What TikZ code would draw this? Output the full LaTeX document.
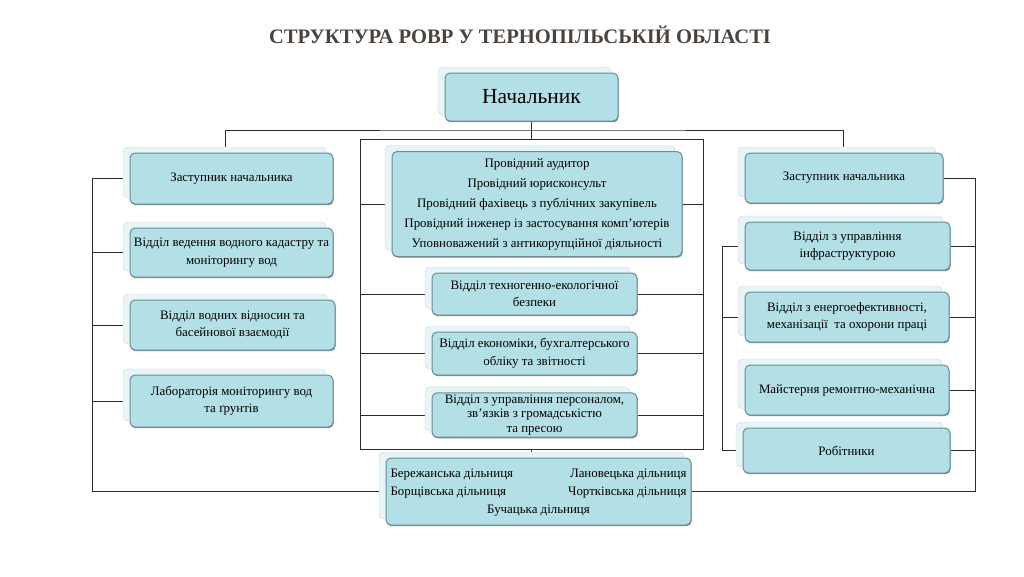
\documentclass[tikz,border=0pt]{standalone}
\usepackage{fontspec}
\setmainfont{Liberation Serif}
\usetikzlibrary{positioning, shadows, backgrounds}
\definecolor{rovrfill}{HTML}{B3DFE6}
\definecolor{rovredge}{HTML}{6A8E92}
\definecolor{rovrshade}{HTML}{E8F4F5}
\definecolor{rovrtitle}{HTML}{4A433E}
\definecolor{rovrline}{HTML}{2B2B2B}

\begin{document}
\begin{tikzpicture}[x=1pt, y=-1pt,
  box/.style={draw=rovredge, line width=1pt, fill=rovrfill, rounded corners=5pt,
    align=center, inner sep=2pt, font=\fontsize{12.9}{17.5}\selectfont,
    general shadow={shadow xshift=-7pt, shadow yshift=6pt, fill=rovrshade,
      draw=rovrshade!75!gray, line width=0.4pt},
    general shadow={shadow xshift=0.6pt, shadow yshift=-1.2pt, fill=rovredge}},
  link/.style={draw=rovrline, line width=0.9pt}]
  \useasboundingbox (0,0) rectangle (1024,576);
  \node[font=\bfseries\fontsize{20.6}{24}\selectfont, text=rovrtitle] (title) at (520,35)
      {СТРУКТУРА РОВР У ТЕРНОПІЛЬСЬКІЙ ОБЛАСТІ};
  \node[box, minimum width=173pt, minimum height=48pt, font=\fontsize{21.5}{24}\selectfont]
      (chief) at (531.5,97) {Начальник};
  \node[box, minimum width=203pt, minimum height=51pt] (ldep) at (231.5,178.5)
      {Заступник начальника};
  \node[box, minimum width=203pt, minimum height=49pt] (cadastre) at (231.5,252.5)
      {Відділ ведення водного кадастру та\\моніторингу вод};
  \node[box, minimum width=205pt, minimum height=50pt] (relations) at (232.5,325)
      {Відділ водних відносин та\\басейнової взаємодії};
  \node[box, minimum width=203pt, minimum height=52pt] (lab) at (231.5,401)
      {Лабораторія моніторингу вод\\та ґрунтів};
  \node[draw=rovrline, line width=0.9pt, minimum width=343pt, minimum height=310pt]
      (frame) at (531.5,294) {};
  \node[box, minimum width=290pt, minimum height=105pt, font=\fontsize{12.9}{20}\selectfont]
      (staff) at (537,204) {Провідний аудитор\\Провідний юрисконсульт\\
      Провідний фахівець з публічних закупівель\\
      Провідний інженер із застосування комп'ютерів\\
      Уповноважений з антикорупційної діяльності};
  \node[box, minimum width=205pt, minimum height=42pt] (safety) at (534.5,294)
      {Відділ техногенно-екологічної\\безпеки};
  \node[box, minimum width=205pt, minimum height=43pt] (economy) at (534.5,353.5)
      {Відділ економіки, бухгалтерського\\обліку та звітності};
  \node[box, minimum width=205pt, minimum height=44pt, font=\fontsize{12.9}{14.5}\selectfont]
      (personnel) at (534.5,415)
      {Відділ з управління персоналом,\\зв’язків з громадськістю\\та пресою};
  \node[box, minimum width=305pt, minimum height=67pt, font=\fontsize{12.9}{18}\selectfont]
      (districts) at (538.5,491.5) {\begin{tabular*}{296pt}{@{}l@{\extracolsep{\fill}}r@{}}
      Бережанська дільниця & Лановецька дільниця\\
      Борщівська дільниця & Чортківська дільниця\\
      \multicolumn{2}{c}{Бучацька дільниця}\end{tabular*}};
  \node[box, minimum width=198pt, minimum height=50pt] (rdep) at (844,178)
      {Заступник начальника};
  \node[box, minimum width=205pt, minimum height=48pt] (infra) at (847.5,246)
      {Відділ з управління\\інфраструктурою};
  \node[box, minimum width=204pt, minimum height=50pt] (energy) at (847,317)
      {Відділ з енергоефективності,\\механізації\ \ та охорони праці};
  \node[box, minimum width=204pt, minimum height=50pt] (workshop) at (847,390)
      {Майстерня ремонтно-механічна};
  \node[box, minimum width=207pt, minimum height=45pt] (workers) at (846.5,450.5)
      {Робітники};
  \coordinate (topbus) at (531,130);
  \coordinate (lbus) at (92,178);
  \coordinate (rbus) at (975,178);
  \coordinate (ibus) at (722,246);
  \begin{scope}[on background layer]
    \draw[link] (chief.south) -- (chief.south |- frame.north);
    \draw[link] ([xshift=-6.5pt]ldep.north) |- (topbus) -| ([xshift=-1pt]rdep.north);
    \draw[link] (ldep.west) -- (ldep.west -| lbus) |- (districts.west);
    \foreach \n in {cadastre, relations, lab}
      \draw[link] (\n.west) -- (\n.west -| lbus);
    \draw[link] (rdep.east) -- (rdep.east -| rbus) |- (districts.east);
    \foreach \n in {infra, energy, workshop, workers}
      \draw[link] (\n.east) -- (\n.east -| rbus);
    \draw[link] (infra.west) -- (infra.west -| ibus) |- (workers.west);
    \draw[link] (energy.west) -- (energy.west -| ibus);
    \foreach \n in {staff, safety, economy, personnel}
      \draw[link] (\n.west -| frame.west) -- (\n.west) (\n.east) -- (\n.east -| frame.east);
    \draw[link] (frame.south) -- (frame.south |- districts.north);
  \end{scope}
\end{tikzpicture}
\end{document}
